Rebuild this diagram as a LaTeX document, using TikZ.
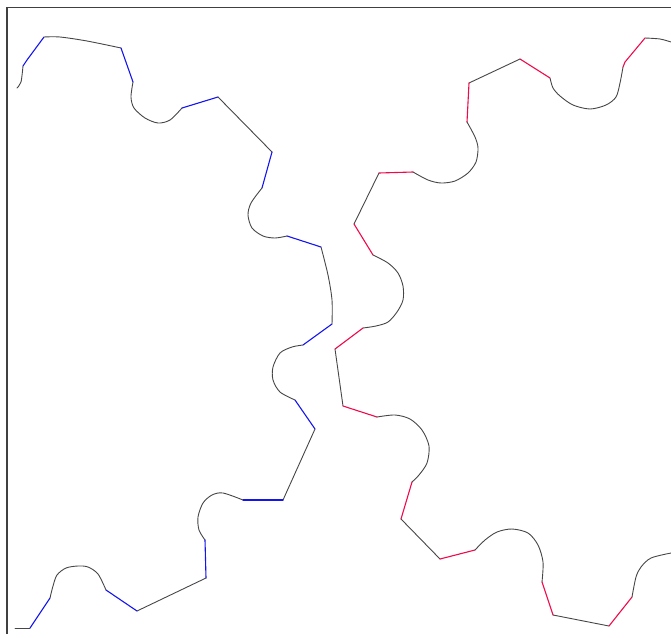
\documentclass[tikz,border=0pt]{standalone}
\definecolor{cblue}{RGB}{20,20,240}
\definecolor{cred}{RGB}{240,10,75}
\definecolor{cdark}{RGB}{70,70,70}
\tikzset{
  blk/.style={draw=cdark, line width=0.9pt, line join=round, line cap=round},
  bl/.style={draw=cblue, line width=1.1pt, line join=round, line cap=round},
  rd/.style={draw=cred, line width=1.1pt, line join=round, line cap=round},
  frame/.style={draw=black!75, line width=1.2pt}
}
\begin{document}
\begin{tikzpicture}[x=1pt,y=-1pt]
\useasboundingbox (0,0) rectangle (671,637);
\draw[frame] (7,634) -- (7,7.5) -- (671,7.5);
% blue curve
\draw[blk] plot[smooth] coordinates {(17,88) (21,82) (23,66)};
\draw[bl] (23,66) -- (27,60) -- (44,37);
\draw[blk] plot[smooth] coordinates {(44,37) (60,37) (87,41) (121,48)};
\draw[bl] (121,48) -- (133,82);
\draw[blk] plot[smooth] coordinates {(133,82) (131,97) (134,108) (145,118) (158,123) (170,120) (182,108)};
\draw[bl] (182,108) -- (218,97);
\draw[blk] (218,97) -- (272,152);
\draw[bl] (272,152) -- (262,188);
\draw[blk] plot[smooth] coordinates {(262,188) (251,203) (248,215) (252,228) (263,236) (275,238) (287,236)};
\draw[bl] (287,236) -- (321,247);
\draw[blk] plot[smooth] coordinates {(321,247) (328,275) (332,300) (332,324)};
\draw[bl] (332,324) -- (303,345);
\draw[blk] plot[smooth] coordinates {(303,345) (292,347) (280,353) (273,367) (273,380) (280,392) (295,400)};
\draw[bl] (295,400) -- (315,429);
\draw[blk] (315,429) -- (283,500);
\draw[bl] (283,500) -- (243,500);
\draw[blk] plot[smooth] coordinates {(243,500) (223,493) (212,495) (203,503) (198,517) (199,530) (205,540)};
\draw[bl] (205,540) -- (206,578);
\draw[blk] (206,578) -- (137,611);
\draw[bl] (137,611) -- (106,590);
\draw[blk] plot[smooth] coordinates {(106,590) (98,574) (88,567) (78,566) (66,568) (57,575) (53,586) (50,598)};
\draw[bl] (50,598) -- (30,628);
\draw[blk] (30,628) -- (15,628);
% red curve
\draw[blk] plot[smooth] coordinates {(671,42) (660,39) (645,38)};
\draw[rd] (645,38) -- (625,62) -- (623,67);
\draw[blk] plot[smooth] coordinates {(623,67) (620,83) (616,97) (606,105) (590,109) (573,105) (560,96) (553,88) (550,78)};
\draw[rd] (550,78) -- (520,59);
\draw[blk] (520,59) -- (469,83);
\draw[rd] (469,83) -- (467,122);
\draw[blk] plot[smooth] coordinates {(467,122) (475,137) (478,148) (476,162) (468,173) (455,181) (441,183) (428,180) (413,172)};
\draw[rd] (413,172) -- (379,173);
\draw[blk] (379,173) -- (354,224);
\draw[rd] (354,224) -- (373,255);
\draw[blk] plot[smooth] coordinates {(373,255) (388,263) (398,273) (403,286) (403,300) (397,312) (388,322) (376,326) (363,328)};
\draw[rd] (363,328) -- (335,349);
\draw[blk] (335,349) -- (343,406);
\draw[rd] (343,406) -- (377,417);
\draw[blk] plot[smooth] coordinates {(377,417) (395,415) (410,419) (422,430) (429,446) (427,463) (419,475) (412,482)};
\draw[rd] (412,482) -- (401,519);
\draw[blk] (401,519) -- (440,559);
\draw[rd] (440,559) -- (475,550);
\draw[blk] plot[smooth] coordinates {(475,550) (485,540) (497,532) (512,529) (528,533) (538,545) (543,562) (542,582)};
\draw[rd] (542,582) -- (553,615);
\draw[blk] (553,615) -- (609,626);
\draw[rd] (609,626) -- (632,597);
\draw[blk] plot[smooth] coordinates {(632,597) (636,577) (641,567) (651,558) (671,553)};
\end{tikzpicture}
\end{document}
